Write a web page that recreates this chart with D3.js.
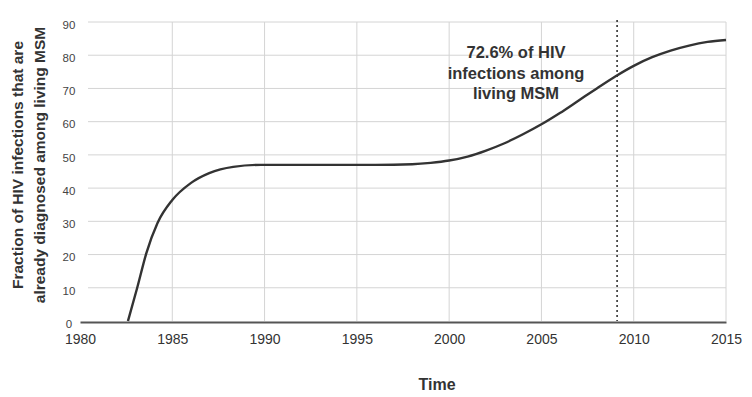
<!DOCTYPE html>
<html>
<head>
<meta charset="utf-8">
<script src="https://cdn.jsdelivr.net/npm/d3@7"></script>
<style>
  body { margin: 0; background: #fff; }
  text { font-family: "Liberation Sans", Arial, sans-serif; fill: #333; }
</style>
</head>
<body>
<div id="chart"></div>
<script>
var W = 752, H = 397;

// data
var years  = [1982.6, 1983.1, 1983.6, 1984.2, 1985, 1986, 1987, 1988.3, 1989.8, 1992, 1994, 1996, 1998, 1999, 2000, 2001, 2002, 2003, 2004, 2005, 2006, 2007, 2008, 2009, 2010, 2011, 2012, 2013, 2014, 2015];
var values = [0, 10, 20.5, 29.5, 36.4, 41.5, 44.5, 46.4, 47, 47, 47, 47, 47.2, 47.6, 48.3, 49.5, 51.3, 53.5, 56.2, 59.2, 62.6, 66.3, 70, 73.6, 76.8, 79.4, 81.4, 82.9, 84, 84.6];
var xTicks = [1980, 1985, 1990, 1995, 2000, 2005, 2010, 2015];
var yTicks = [0, 10, 20, 30, 40, 50, 60, 70, 80, 90];
var markerYear = 2009.1;
var noteLines = ["72.6% of HIV", "infections among", "living MSM"];
var yTitle = ["Fraction of HIV infections that are", "already diagnosed among living MSM"];

var svg = d3.select("#chart")
  .append("svg")
    .attr("width", W)
    .attr("height", H);

var x = d3.scaleLinear()
    .domain([1980, 2015])
    .range([80, 726]);

var y = d3.scaleLinear()
    .domain([0, 90])
    .range([321, 22]);

// grid
svg.append("g")
  .selectAll("line")
  .data(yTicks.slice(1))
  .enter()
  .append("line")
    .attr("x1", 88).attr("x2", x(2015))
    .attr("y1", function(d){ return y(d) })
    .attr("y2", function(d){ return y(d) })
    .attr("stroke", "#d4d4d4");

svg.append("g")
  .selectAll("line")
  .data(xTicks.slice(1))
  .enter()
  .append("line")
    .attr("x1", function(d){ return x(d) })
    .attr("x2", function(d){ return x(d) })
    .attr("y1", y(90)).attr("y2", y(0))
    .attr("stroke", "#d4d4d4");

// x axis
var xAxis = svg.append("g")
  .attr("transform", "translate(0," + (y(0) + 1) + ")")
  .call(d3.axisBottom(x).tickValues(xTicks).tickFormat(d3.format("d")).tickSize(0).tickPadding(12));
xAxis.select(".domain").attr("stroke", "#555").attr("stroke-width", 2);
xAxis.selectAll("text").attr("font-size", 14).style("fill", "#333");

// y axis
var yAxis = svg.append("g")
  .attr("transform", "translate(78,0)")
  .call(d3.axisLeft(y).tickValues(yTicks).tickSize(0).tickPadding(0));
yAxis.select(".domain").remove();
yAxis.selectAll("text")
  .attr("x", -9)
  .attr("dy", "0.55em")
  .attr("text-anchor", "middle")
  .attr("font-size", 11.5)
  .style("fill", "#444");

// dotted marker
svg.append("line")
  .attr("x1", x(markerYear)).attr("x2", x(markerYear))
  .attr("y1", 20).attr("y2", y(0))
  .attr("stroke", "#333")
  .attr("stroke-width", 1.6)
  .attr("stroke-dasharray", "2,3");

// curve
var pts = years.map(function(d, i){ return [d, values[i]] });
svg.append("path")
  .datum(pts)
  .attr("fill", "none")
  .attr("stroke", "#333")
  .attr("stroke-width", 2.4)
  .attr("d", d3.line()
    .x(function(d){ return x(d[0]) })
    .y(function(d){ return y(d[1]) })
    .curve(d3.curveMonotoneX));

// annotation
svg.append("text")
  .attr("x", 516)
  .attr("y", 58)
  .attr("text-anchor", "middle")
  .attr("font-size", 16.5)
  .attr("font-weight", "bold")
  .selectAll("tspan")
  .data(noteLines)
  .enter()
  .append("tspan")
    .attr("x", 516)
    .attr("dy", function(d, i){ return i ? 20.5 : 0 })
    .text(function(d){ return d });

// titles
svg.append("text")
  .attr("x", 437)
  .attr("y", 390)
  .attr("text-anchor", "middle")
  .attr("font-size", 16)
  .attr("font-weight", "bold")
  .text("Time");

svg.append("g")
  .attr("transform", "translate(0,165) rotate(-90)")
  .selectAll("text")
  .data(yTitle)
  .enter()
  .append("text")
    .attr("x", 0)
    .attr("y", function(d, i){ return 23 + i * 22 })
    .attr("text-anchor", "middle")
    .attr("font-size", 15.5)
    .attr("font-weight", "bold")
    .text(function(d){ return d });
</script>
</body>
</html>
